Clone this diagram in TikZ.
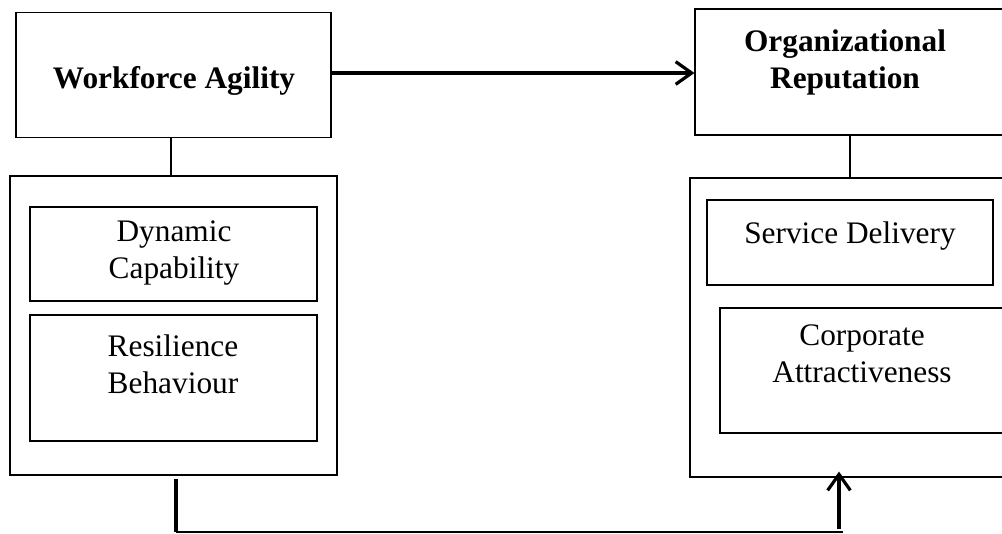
\documentclass[tikz,border=0pt]{standalone}
\usepackage{fontspec}
\setmainfont{Liberation Serif}
\usetikzlibrary{arrows.meta}
\begin{document}
\begin{tikzpicture}[x=0.75pt,y=-0.75pt,
  box/.style={draw=black, line width=0.85pt, inner sep=0pt},
  txt/.style={inner sep=0pt, align=center, font=\fontsize{23.5}{27.75}\selectfont},
  btxt/.style={txt, font=\fontsize{23.5}{27.75}\selectfont\bfseries},
  thin/.style={line width=0.85pt},
  thickline/.style={line width=2.4pt},
  barb/.style={line width=2.4pt, -{Straight Barb[length=12pt, width=17pt, line width=2.4pt]}}]
\useasboundingbox (0,0) rectangle (1002,533);
\clip (0,0) rectangle (1002,533);
% left column
\node[box, minimum width=315*0.75pt, minimum height=125*0.75pt] (wa) at (173.5,75) {};
\node[btxt] (waT) at (174,81) {Workforce Agility};
\node[box, minimum width=327*0.75pt, minimum height=299*0.75pt] (lo) at (173.5,325.5) {};
\node[box, minimum width=287*0.75pt, minimum height=94*0.75pt] (dc) at (173.5,254) {};
\node[txt] (dcT) at (174,253) {Dynamic\\Capability};
\node[box, minimum width=287*0.75pt, minimum height=126*0.75pt] (rb) at (173.5,378) {};
\node[txt] (rbT) at (173,364) {Resilience\\Behaviour};
% right column
\node[box, minimum width=320*0.75pt, minimum height=126*0.75pt] (or) at (855,72) {};
\node[btxt] (orT) at (845,62) {Organizational\\Reputation};
\node[box, minimum width=330*0.75pt, minimum height=299*0.75pt] (ro) at (855,327.5) {};
\node[box, minimum width=286*0.75pt, minimum height=85*0.75pt] (sd) at (850,242.5) {};
\node[txt] (sdT) at (850,236) {Service Delivery};
\node[box, minimum width=300*0.75pt, minimum height=125*0.75pt] (ca) at (870,370.5) {};
\node[txt] (caT) at (862,354) {Corporate\\Attractiveness};
% connectors
\draw[thin] (wa.south -| 171,0) -- (lo.north -| 171,0);
\draw[thin] (or.south -| 850,0) -- (ro.north -| 850,0);
\draw[barb] (wa.east |- 0,73) -- (or.west |- 0,73);
\coordinate (c1) at (176,479);
\coordinate (c2) at (176,532);
\coordinate (c3) at (843,532);
\coordinate (c4) at (839,529);
\draw[thickline] (c1) -- (c2);
\draw[thin] (c2) -- (c3);
\draw[barb, shorten >=-4.5pt] (c4) -- (ro.south -| c4);
\end{tikzpicture}
\end{document}
